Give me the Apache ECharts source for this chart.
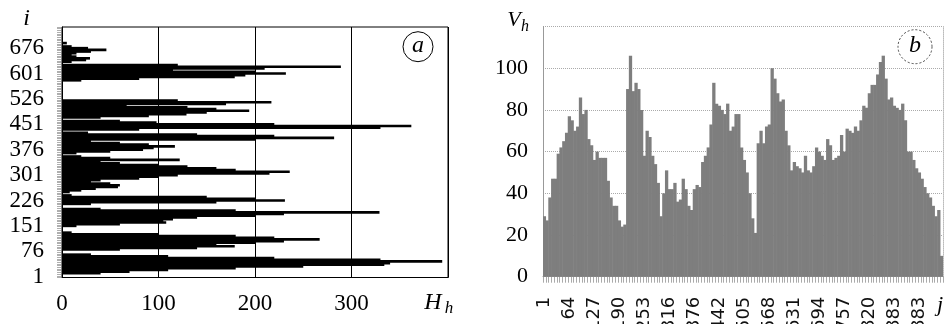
<!DOCTYPE html>
<html>
<head>
<meta charset="utf-8">
<script src="https://cdn.jsdelivr.net/npm/echarts@6/dist/echarts.min.js"></script>
<style>
html,body{margin:0;padding:0;background:#fff;}
#chart{width:947px;height:324px;}
</style>
</head>
<body>
<div id="chart"></div>
<script>
// ---- Panel (a): H_h per i (horizontal bars), categories i = 1, 6, 11, ...
const iTicks = ['1','76','151','226','301','376','451','526','601','676'];
const hValues = [
  0,0,40,70,110,180,250,334,340,394,
  330,220,110,30,0,0,60,140,179,160,
  200,230,267,220,180,100,10,0,0,0,
  15,60,108,105,115,140,200,230,329,180,
  40,0,0,30,160,231,200,150,10,0,
  8,20,35,58,60,50,30,40,80,100,
  120,215,236,180,160,130,100,60,40,122,
  50,20,0,15,50,84,95,117,90,60,
  30,200,282,220,140,27,0,80,330,362,
  220,98,60,0,40,90,129,150,194,160,
  130,67,170,217,120,0,0,0,0,0,
  0,0,0,0,0,0,20,80,179,190,
  232,200,115,210,289,120,0,10,25,29,
  15,10,15,30,46,27,10,0,5,0,
  0,0,0,0,0,0,0,0
];
const iCats = hValues.map((_, k) => String(1 + 5 * k));

// ---- Panel (b): V_h per j (vertical bars), categories j = 1, 8, 15, ...
const jTicks = ['1','64','127','190','253','316','376','442','505','568','631','694','757','820','883','883'];
const vValues = [
  29,27,38,47,47,59,62,65,69,77,
  75,70,72,86,78,80,66,63,56,60,
  57,57,57,46,38,34,34,27,24,25,
  90,106,89,93,90,80,58,70,67,58,
  54,45,29,40,51,42,42,45,36,37,
  47,42,34,32,42,44,43,55,58,62,
  73,93,83,82,80,78,83,70,72,78,
  78,62,56,50,40,28,21,64,70,64,
  72,73,100,95,88,84,85,70,63,51,
  55,53,52,50,58,51,50,53,62,60,
  58,56,66,63,56,57,58,68,60,71,
  70,69,72,70,75,82,81,88,92,92,
  97,103,106,95,85,86,82,81,80,83,
  75,60,60,56,52,50,47,43,40,38,
  34,29,32,10
];
const jCats = vValues.map((_, c) => String(1 + 7 * c));

const serif = 'Liberation Serif';
const sans = 'DejaVu Sans';

const chart = echarts.init(document.getElementById('chart'), null, {renderer: 'canvas'});
chart.setOption({
  animation: false,
  backgroundColor: '#fff',
  grid: [
    {left: 62, top: 27, width: 386, height: 250.5, show: true, borderColor: '#000', borderWidth: 1, backgroundColor: 'transparent', outerBoundsMode: 'none', containLabel: false},
    {left: 543, top: 26.5, width: 400, height: 250.2, outerBoundsMode: 'none', containLabel: false}
  ],
  xAxis: [
    {
      gridIndex: 0, type: 'value', min: 0, max: 400, interval: 100,
      splitLine: {show: true, lineStyle: {color: '#000', width: 1}},
      axisLine: {show: true, lineStyle: {color: '#000'}},
      axisTick: {show: false},
      axisLabel: {showMaxLabel: false, fontFamily: serif, fontSize: 23, color: '#000', margin: 15}
    },
    {
      gridIndex: 1, type: 'category', data: jCats, boundaryGap: true,
      axisLine: {show: true, lineStyle: {color: '#999'}},
      axisTick: {show: true, interval: 0, length: 6, lineStyle: {color: '#aaa', width: 1}},
      splitLine: {show: false},
      axisLabel: {
        interval: (idx) => idx % 9 === 0,
        formatter: (v, idx) => jTicks[Math.round(idx / 9)] || '',
        rotate: 90, fontFamily: sans, fontSize: 18, color: '#111', margin: 20
      }
    }
  ],
  yAxis: [
    {
      gridIndex: 0, type: 'category', data: iCats, boundaryGap: true,
      axisLine: {show: true, lineStyle: {color: '#000'}},
      axisTick: {show: true, interval: 0, length: 5, lineStyle: {color: '#777', width: 0.6}},
      splitLine: {show: false},
      axisLabel: {
        interval: (idx, val) => iTicks.includes(val),
        fontFamily: serif, fontSize: 23, color: '#000', margin: 18
      }
    },
    {
      gridIndex: 1, type: 'value', min: 0, max: 120, interval: 20,
      splitLine: {show: true, lineStyle: {color: '#aaa', type: 'dotted', width: 1}},
      axisLine: {show: true, lineStyle: {color: '#999'}},
      axisTick: {show: false},
      axisLabel: {showMaxLabel: false, fontFamily: serif, fontSize: 22, color: '#000', margin: 15}
    },
    {
      gridIndex: 1, type: 'value', position: 'right', min: 0, max: 120, interval: 20,
      splitLine: {show: false},
      axisLine: {show: true, lineStyle: {color: '#bbb', type: 'dotted'}},
      axisTick: {show: false},
      axisLabel: {show: false}
    }
  ],
  series: [
    {
      type: 'bar', xAxisIndex: 0, yAxisIndex: 0, data: hValues,
      barWidth: 2.6, barCategoryGap: '0%', silent: true,
      itemStyle: {color: '#000'}
    },
    {
      type: 'bar', xAxisIndex: 1, yAxisIndex: 1, data: vValues,
      barWidth: 3.3, barCategoryGap: '0%', silent: true,
      itemStyle: {color: '#7e7e7e'}
    }
  ],
  graphic: [
    {type: 'text', x: 26.5, y: 18.5, style: {text: 'i', fontFamily: serif, fontStyle: 'italic', fontSize: 24, fill: '#000', align: 'center', verticalAlign: 'middle'}},
    {type: 'text', x: 433, y: 303, style: {text: 'H', fontFamily: serif, fontStyle: 'italic', fontSize: 24, fill: '#000', align: 'center', verticalAlign: 'middle'}},
    {type: 'text', x: 449, y: 309, style: {text: 'h', fontFamily: serif, fontStyle: 'italic', fontSize: 17, fill: '#000', align: 'center', verticalAlign: 'middle'}},
    {type: 'circle', shape: {cx: 418, cy: 46.7, r: 15}, style: {fill: 'none', stroke: '#000', lineWidth: 1}},
    {type: 'text', x: 418, y: 46, style: {text: 'a', fontFamily: serif, fontStyle: 'italic', fontSize: 24, fill: '#000', align: 'center', verticalAlign: 'middle'}},
    {type: 'text', x: 514, y: 20, style: {text: 'V', fontFamily: serif, fontStyle: 'italic', fontSize: 22, fill: '#000', align: 'center', verticalAlign: 'middle'}},
    {type: 'text', x: 525, y: 27, style: {text: 'h', fontFamily: serif, fontStyle: 'italic', fontSize: 16, fill: '#000', align: 'center', verticalAlign: 'middle'}},
    {type: 'circle', shape: {cx: 915, cy: 46.7, r: 17}, style: {fill: 'none', stroke: '#444', lineWidth: 1, lineDash: [2, 2]}},
    {type: 'text', x: 915, y: 46, style: {text: 'b', fontFamily: serif, fontStyle: 'italic', fontSize: 24, fill: '#000', align: 'center', verticalAlign: 'middle'}},
    {type: 'text', x: 940, y: 305, style: {text: 'j', fontFamily: serif, fontStyle: 'italic', fontSize: 22, fill: '#000', align: 'center', verticalAlign: 'middle'}}
  ]
});
</script>
</body>
</html>
